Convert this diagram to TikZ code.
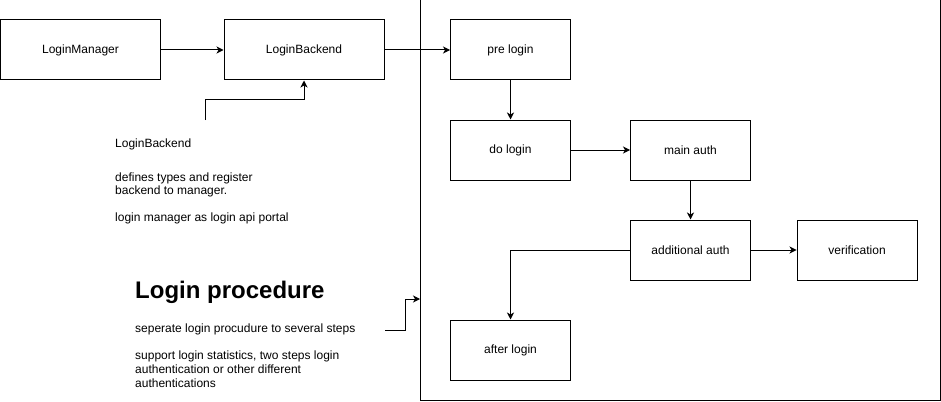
\documentclass[tikz,border=0pt]{standalone}
\usepackage{fontspec}
\setmainfont{Liberation Sans}
\usetikzlibrary{arrows.meta}
\begin{document}
\begin{tikzpicture}[x=1pt,y=-1pt,
  box/.style={draw, line width=1pt, minimum width=120pt, minimum height=60pt, inner sep=0pt, font=\fontsize{12}{14}\selectfont},
  widebox/.style={box, minimum width=160pt},
  conn/.style={line width=1pt, -{Stealth[length=7pt,width=7pt,inset=2pt]}},
  txt/.style={anchor=base west, inner sep=0pt, font=\fontsize{12}{14}\selectfont},
  head/.style={anchor=base west, inner sep=0pt, font=\fontsize{24}{28}\selectfont\bfseries}]
\useasboundingbox (0,0) rectangle (941,401);
% container
\node[draw, line width=1pt, minimum width=520pt, minimum height=400pt, inner sep=0pt] (proc) at (680,200) {};
% boxes
\node[widebox] (mgr) at (80.5,50) {LoginManager};
\node[widebox] (be) at (304,50) {LoginBackend};
\node[box] (pre) at (510.5,50) {pre login};
\node[box] (do) at (510.5,150) {do login};
\node[box] (main) at (690.5,150) {main auth};
\node[box] (add) at (690.5,250) {additional auth};
\node[box] (ver) at (857,250) {verification};
\node[box] (after) at (510.5,350) {after login};
% notes
\node[txt] (n1) at (115,147) {LoginBackend};
\node[txt] (n2) at (115,181) {defines types and register};
\node[txt] (n3) at (115,194) {backend to manager.};
\node[txt] (n4) at (115,221) {login manager as login api portal};
\node[head] (h1) at (135,298) {Login procedure};
\node[txt] (p1) at (135,332) {seperate login procudure to several steps};
\node[txt] (p2) at (135,359) {support login statistics, two steps login};
\node[txt] (p3) at (135,373) {authentication or other different};
\node[txt] (p4) at (135,387) {authentications};
% connectors
\draw[conn] (mgr) -- (be);
\draw[conn] (be) -- (pre);
\draw[conn] (pre) -- (do);
\draw[conn] (do) -- (main);
\draw[conn] (main) -- (add);
\draw[conn] (add) -- (ver);
\draw[conn] (add.west) -| (after.north);
\coordinate (ns) at (205,120);
\draw[conn] (ns) -- ++(0,-20) -| (be.south);
\coordinate (ps) at (385,330);
\coordinate (pin) at (420,299);
\draw[conn] (ps) -- ++(20,0) |- (pin);
\end{tikzpicture}
\end{document}
